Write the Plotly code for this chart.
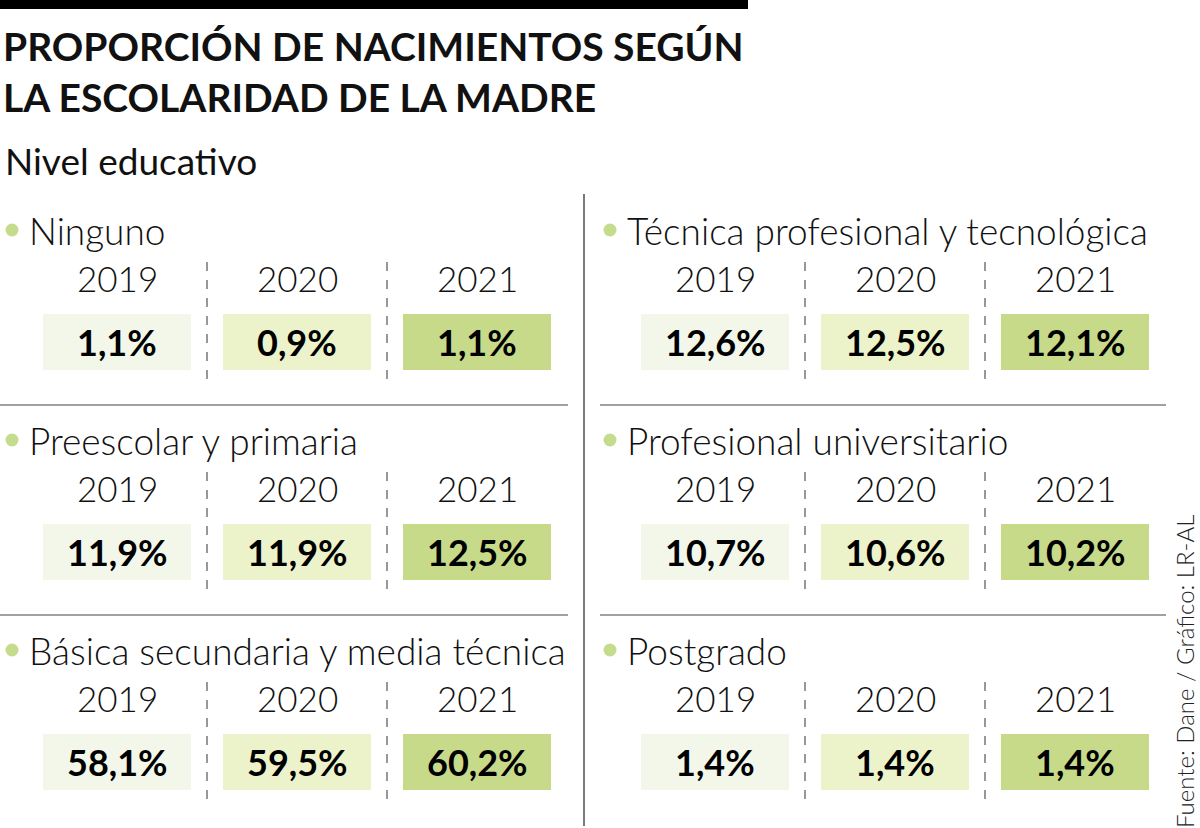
import plotly.graph_objects as go

# datos
categorias = ["Ninguno", "Preescolar y primaria", "Básica secundaria y media técnica",
              "Técnica profesional y tecnológica", "Profesional universitario", "Postgrado"]
anios = ["2019", "2020", "2021"]
v2019 = [1.1, 11.9, 58.1, 12.6, 10.7, 1.4]
v2020 = [0.9, 11.9, 59.5, 12.5, 10.6, 1.4]
v2021 = [1.1, 12.5, 60.2, 12.1, 10.2, 1.4]

titulo = "PROPORCIÓN DE NACIMIENTOS SEGÚN<br>LA ESCOLARIDAD DE LA MADRE"
subtitulo = "Nivel educativo"
fuente = "Fuente: Dane / Gráfico: LR-AL"

colores = ["#f2f7ea", "#ecf2c9", "#c6da8a"]
verde = "#c5dc8c"
FONT = "Lato"

fig = go.Figure()
shapes = [dict(type="rect", x0=0, x1=748, y0=0, y1=9, fillcolor="black", line_width=0)]
ann = []

col_x = [0, 598]      # left edge of each column
row_y = [230, 440, 650]  # header y of each row
box_w, box_h, box_gap = 148, 56, 32

valores = list(zip(v2019, v2020, v2021))
for i, cat in enumerate(categorias):
    c = i // 3
    r = i % 3
    x0 = col_x[c]
    yh = row_y[r]
    # bullet
    fig.add_trace(go.Scatter(x=[x0 + 12], y=[yh], mode="markers",
                             marker=dict(size=13, color=verde), showlegend=False, hoverinfo="skip"))
    ann.append(dict(x=x0 + 27, y=yh, text=cat, xanchor="left", yanchor="middle", showarrow=False,
                    font=dict(family=FONT, size=37, color="#111", weight=300)))
    for j, a in enumerate(anios):
        bx0 = x0 + 43 + j * (box_w + box_gap)
        cx = bx0 + box_w / 2
        by0 = yh + 84
        shapes.append(dict(type="rect", x0=bx0, x1=bx0 + box_w, y0=by0, y1=by0 + box_h,
                           fillcolor=colores[j], line_width=0, layer="below"))
        ann.append(dict(x=cx, y=yh + 48, text=a, showarrow=False, yanchor="middle",
                        font=dict(family=FONT, size=35, color="#111", weight=300)))
        txt = f"{valores[i][j]:.1f}".replace(".", ",") + "%"
        ann.append(dict(x=cx, y=by0 + box_h / 2, text="<b>" + txt + "</b>", showarrow=False,
                        yanchor="middle", font=dict(family=FONT, size=36, color="#000")))
        if j < 2:
            dx = bx0 + box_w + box_gap / 2
            shapes.append(dict(type="line", x0=dx, x1=dx, y0=yh + 32, y1=yh + 150,
                               line=dict(color="#777", width=1.5, dash="dash")))
    if r < 2:
        ys = yh + 175
        shapes.append(dict(type="line", x0=x0 + (2 if c else 0), x1=x0 + 568, y0=ys, y1=ys,
                           line=dict(color="#444", width=1.2)))

shapes.append(dict(type="line", x0=584, x1=584, y0=194, y1=826, line=dict(color="#222", width=1.2)))

ann.append(dict(x=1, y=71, text="<b>" + titulo + "</b>", xanchor="left", yanchor="middle",
                align="left", showarrow=False,
                font=dict(family=FONT, size=39, color="#111")))
ann.append(dict(x=3, y=160, text=subtitulo, xanchor="left", yanchor="middle", showarrow=False,
                font=dict(family=FONT, size=37, color="#111")))
ann.append(dict(x=1184, y=672, text=fuente, textangle=-90, xanchor="center", yanchor="middle",
                showarrow=False, font=dict(family=FONT, size=24, color="#222", weight=300)))

fig.update_layout(
    width=1200, height=828, margin=dict(l=0, r=0, t=0, b=0),
    paper_bgcolor="white", plot_bgcolor="white",
    xaxis=dict(range=[0, 1200], visible=False, fixedrange=True),
    yaxis=dict(range=[828, 0], visible=False, fixedrange=True),
    shapes=shapes, annotations=ann, showlegend=False,
)

fig.write_html("out.html", config={"displayModeBar": False},
               post_script="document.body.style.margin='0';")
